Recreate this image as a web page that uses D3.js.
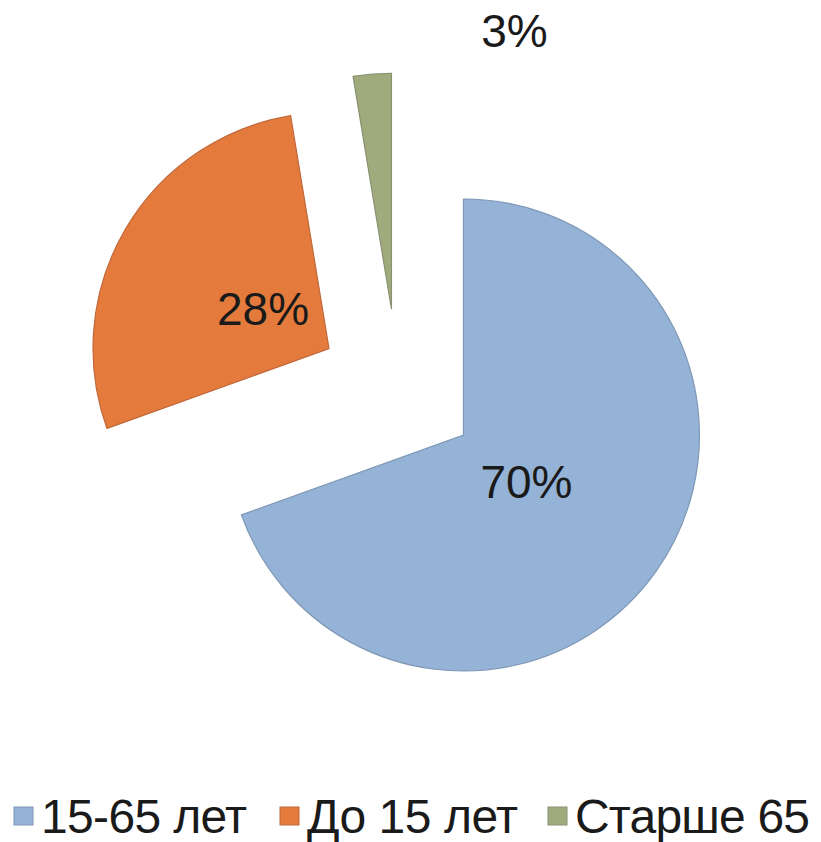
<!DOCTYPE html>
<html>
<head>
<meta charset="utf-8">
<script src="https://cdn.jsdelivr.net/npm/d3@7"></script>
<style>
  body { margin: 0; background: #fff; }
  svg text { font-family: "Liberation Sans", Arial, sans-serif; fill: #1a1a1a; }
</style>
</head>
<body>
<svg id="chart" width="821" height="842"></svg>
<script>
// age groups and their share of population (percent)
var categories = ["15-65 лет", "До 15 лет", "Старше 65"];
var shares = [69.5, 27.9, 2.6];
var labels = ["70%", "28%", "3%"];
var colors = ["#94b3d6", "#e47b3d", "#a0ab7d"];
var strokes = ["#7f98b6", "#c0683a", "#8a9170"];

var svg = d3.select("#chart");

// pie geometry
var center = [398, 389];
var radius = 236;
var explode = 80;

var pie = d3.pie().sort(null).value(function(d) { return d; });
var arc = d3.arc().innerRadius(0).outerRadius(radius);
var arcs = pie(shares);

function offset(d, dist) {
    var mid = (d.startAngle + d.endAngle) / 2;
    return [Math.sin(mid) * dist, -Math.cos(mid) * dist];
}

var g = svg.append("g").attr("transform", "translate(" + center[0] + "," + center[1] + ")");

var slices = g.selectAll("g.slice")
    .data(arcs)
    .enter()
    .append("g")
    .attr("class", "slice")
    .attr("transform", function(d) {
        var o = offset(d, explode);
        return "translate(" + o[0] + "," + o[1] + ")";
    });

slices.append("path")
    .attr("d", arc)
    .attr("fill", function(d, i) { return colors[i]; })
    .attr("stroke", function(d, i) { return strokes[i]; })
    .attr("stroke-width", 1.2);

// data label placement, relative to each slice's tip (the small one sits outside)
var labelPos = [[63, 63], [-66, -23], [123, -262]];
slices.append("text")
    .attr("text-anchor", "middle")
    .attr("font-size", 46)
    .attr("x", function(d, i) { return labelPos[i][0]; })
    .attr("y", function(d, i) { return labelPos[i][1]; })
    .text(function(d, i) { return labels[i]; });

// legend along the bottom
var legendX = [14, 280, 548];
var legend = svg.selectAll("g.legend")
    .data(categories)
    .enter()
    .append("g")
    .attr("class", "legend")
    .attr("transform", function(d, i) { return "translate(" + legendX[i] + ",833)"; });

legend.append("rect")
    .attr("x", 0)
    .attr("y", -26)
    .attr("width", 19)
    .attr("height", 18)
    .attr("fill", function(d, i) { return colors[i]; })
    .attr("stroke", function(d, i) { return strokes[i]; })
    .attr("stroke-width", 1);

legend.append("text")
    .attr("x", 27)
    .attr("font-size", 48)
    .attr("textLength", function(d, i) { return [206, 211, 235][i]; })
    .text(function(d) { return d; });
</script>
</body>
</html>
